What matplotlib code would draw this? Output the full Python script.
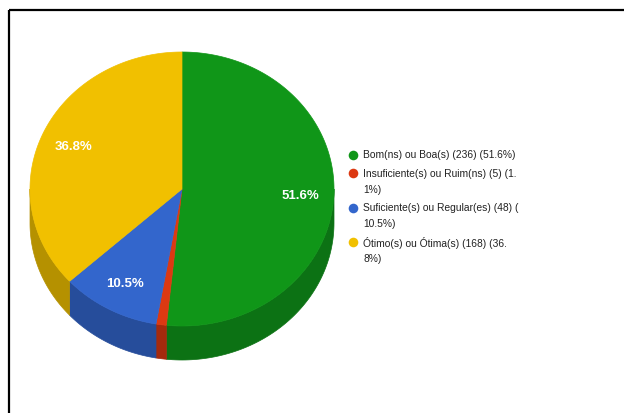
import numpy as np
import matplotlib.pyplot as plt
from matplotlib.font_manager import FontProperties

# survey answers
categories = ['Bom(ns) ou Boa(s)', 'Insuficiente(s) ou Ruim(ns)',
              'Suficiente(s) ou Regular(es)', 'Ótimo(s) ou Ótima(s)']
counts = [236, 5, 48, 168]
percents = [51.6, 1.1, 10.5, 36.8]

top_colors = ['#109618', '#dc3912', '#3366cc', '#f1c000']
side_colors = ['#0c7214', '#a52a0d', '#264d9b', '#b59100']

W, H = 624, 414
fig = plt.figure(figsize=(W / 100, H / 100), dpi=100)
ax = fig.add_axes([0, 0, 1, 1])
ax.set_xlim(0, W)
ax.set_ylim(H, 0)
ax.axis('off')

# frame (only top and left edges visible in the crop)
ax.plot([9, W], [11, 11], color='black', lw=1.6, solid_capstyle='butt')
ax.plot([9, 9], [11, H], color='black', lw=1.6, solid_capstyle='butt')

# pseudo-3D pie geometry (pixels)
cx, cy, rx, ry, depth = 182, 190, 152, 137, 34

def pt(theta):
    # theta in degrees, clockwise from 12 o'clock
    t = np.radians(theta)
    return cx + rx * np.sin(t), cy - ry * np.cos(t)

total = sum(counts)
bounds = np.concatenate([[0], np.cumsum(counts) / total * 360])

# side walls first (only the front half, 90..270 deg, is visible)
for i in range(len(counts)):
    a, b = max(bounds[i], 90), min(bounds[i + 1], 270)
    if b <= a:
        continue
    th = np.linspace(a, b, 80)
    xs, ys = pt(th)
    px = np.concatenate([xs, xs[::-1]])
    py = np.concatenate([ys, ys[::-1] + depth])
    ax.fill(px, py, color=side_colors[i], lw=0.5, ec=side_colors[i])

# top faces
for i in range(len(counts)):
    th = np.linspace(bounds[i], bounds[i + 1], 200)
    xs, ys = pt(th)
    ax.fill(np.concatenate([[cx], xs]), np.concatenate([[cy], ys]),
            color=top_colors[i], lw=0.5, ec=top_colors[i])

# slice labels
for i in range(len(counts)):
    if percents[i] < 5:
        continue
    mid = (bounds[i] + bounds[i + 1]) / 2
    t = np.radians(mid)
    lx = cx + 0.78 * rx * np.sin(t)
    ly = cy - 0.78 * ry * np.cos(t)
    ax.text(lx, ly, f'{percents[i]}%', color='white', fontsize=9.5,
            fontweight='bold', family='Liberation Sans',
            ha='center', va='center')

# legend with Google-style wrapping
fp = FontProperties(family='Liberation Sans', size=7.4)
renderer = fig.canvas.get_renderer()

def width(s):
    return renderer.get_text_width_height_descent(s, fp, ismath=False)[0]

def wrap(s, limit=160):
    lines = []
    while width(s) > limit:
        cut = None
        for k in range(1, len(s)):
            if s[k - 1] in ' (.' and width(s[:k].rstrip()) <= limit:
                cut = k
        if cut is None:
            break
        lines.append(s[:cut].rstrip())
        s = s[cut:]
    lines.append(s)
    return lines

y = 155.5
for i in range(len(counts)):
    label = f'{categories[i]} ({counts[i]}) ({percents[i]}%)'
    ax.scatter([353], [y], s=48, color=top_colors[i], lw=0)
    for j, line in enumerate(wrap(label)):
        ax.text(363, y + j * 16, line, fontproperties=fp, color='#222222',
                ha='left', va='center')
        last = j
    y += last * 16 + 18.5

fig.savefig('out.png', dpi=100)
